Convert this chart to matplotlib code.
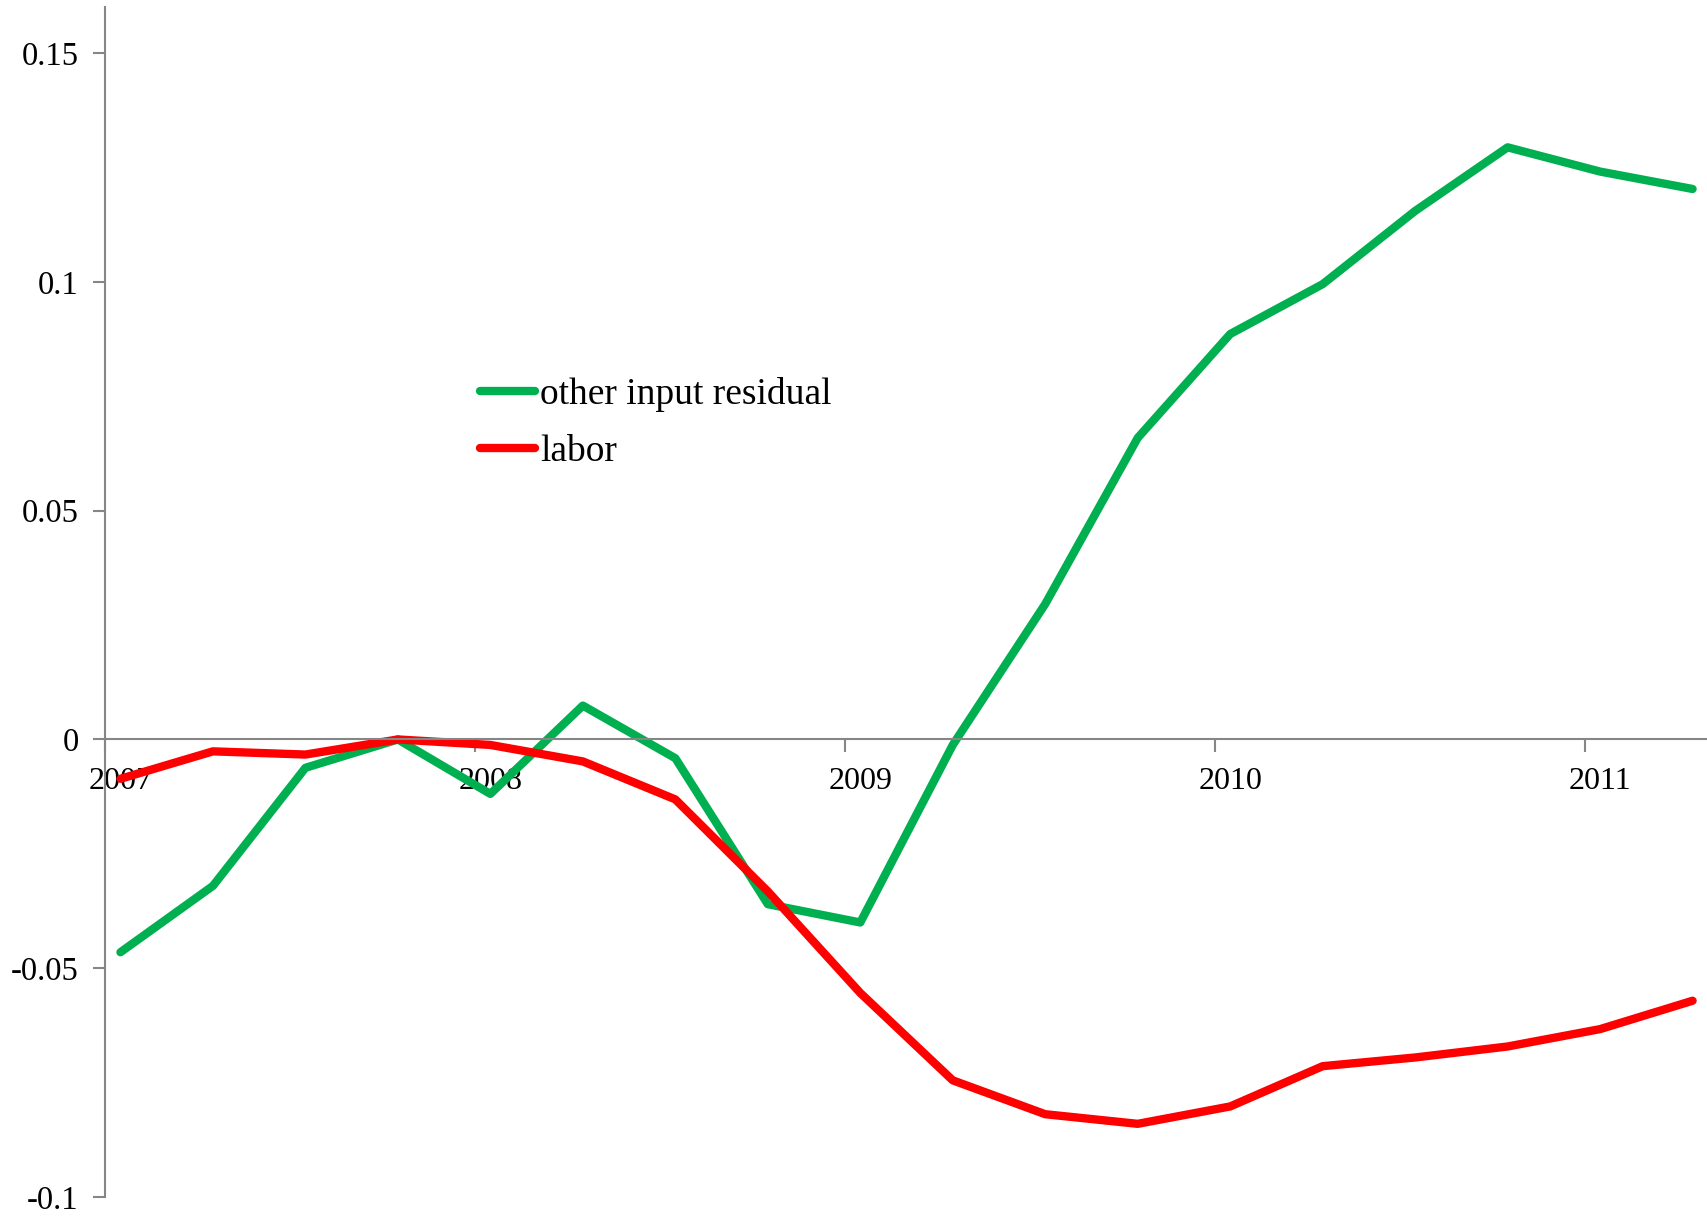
import matplotlib.pyplot as plt
import numpy as np

plt.rcParams['font.family'] = ['Liberation Serif', 'DejaVu Serif']

# quarterly observations, 2007Q1 .. 2011Q2
quarters = ['2007Q1', '2007Q2', '2007Q3', '2007Q4',
            '2008Q1', '2008Q2', '2008Q3', '2008Q4',
            '2009Q1', '2009Q2', '2009Q3', '2009Q4',
            '2010Q1', '2010Q2', '2010Q3', '2010Q4',
            '2011Q1', '2011Q2']
other_input = [-0.0465, -0.032, -0.0062, 0.0, -0.0119, 0.0074, -0.0041, -0.036,
               -0.040, -0.0012, 0.0296, 0.0659, 0.0886, 0.0995, 0.1155, 0.1294,
               0.1241, 0.1203]
labor = [-0.0086, -0.0026, -0.0033, 0.0, -0.0012, -0.0048, -0.0131, -0.0332,
         -0.0554, -0.0745, -0.0819, -0.0840, -0.0802, -0.0714, -0.0695, -0.0671,
         -0.0633, -0.0571]
years = ['2007', '2008', '2009', '2010', '2011']
yticks = [-0.1, -0.05, 0, 0.05, 0.1, 0.15]
ytick_labels = ['-0.1', '-0.05', '0', '0.05', '0.1', '0.15']

# month axis: each quarter sits in the middle of its first month
x = np.array([3 * i + 0.5 for i in range(len(quarters))])

fig = plt.figure(figsize=(17.08, 12.17), dpi=100)
ax = fig.add_axes([0.0615, 0.0164, 0.9385, 0.9776])

ax.plot(x, other_input, color='#00B050', lw=6, solid_joinstyle='round',
        solid_capstyle='round', label='other input residual')
ax.plot(x, labor, color='#FF0000', lw=6, solid_joinstyle='round',
        solid_capstyle='round', label='labor')

ax.set_xlim(0, 52)
ax.set_ylim(-0.1, 0.16)

axis_col = '#868686'
for s in ['top', 'right']:
    ax.spines[s].set_visible(False)
ax.spines['bottom'].set_position(('data', 0))
for s in ['left', 'bottom']:
    ax.spines[s].set_color(axis_col)
    ax.spines[s].set_linewidth(1.5)

ax.set_yticks(yticks)
ax.set_yticklabels(ytick_labels)
ax.tick_params(axis='y', length=9, width=1.5, color=axis_col, pad=10,
               labelsize=23.5)

# year boundaries as tick marks, labels centred on January
ax.set_xticks([12 * i for i in range(len(years))])
ax.set_xticklabels([])
ax.set_xticks([12 * i + 0.5 for i in range(len(years))], minor=True)
ax.set_xticklabels(years, minor=True)
ax.tick_params(axis='x', which='major', length=9, width=1.5, color=axis_col)
ax.tick_params(axis='x', which='minor', length=0, pad=20, labelsize=23)

ax.legend(loc='center left', bbox_to_anchor=(0.234, 0.6505), frameon=False,
          fontsize=27, handlelength=1.45, handletextpad=0.15,
          borderpad=0, borderaxespad=0, labelspacing=0.6)

fig.savefig('out.png', dpi=100)
